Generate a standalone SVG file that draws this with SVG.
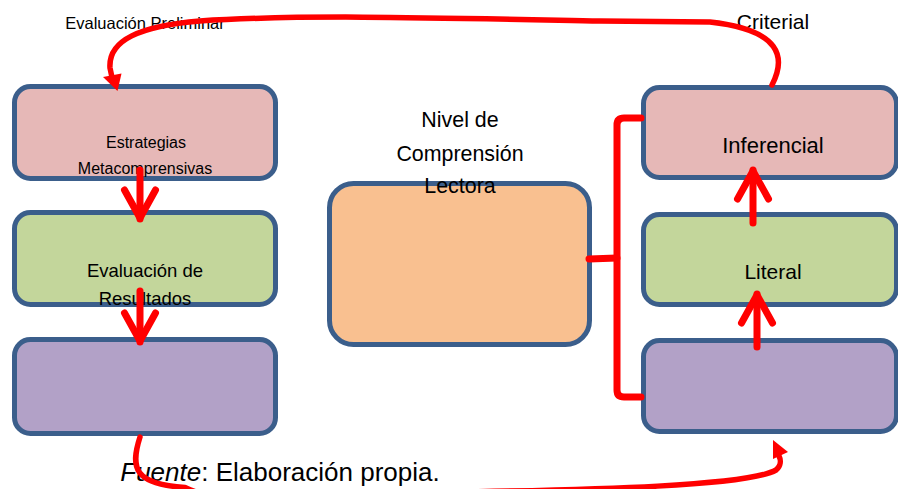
<svg xmlns="http://www.w3.org/2000/svg" width="898" height="489" viewBox="0 0 898 489">
<style>
.box{stroke:#3b5e8b;stroke-width:5}
.pink{fill:#e6b8b7}
.green{fill:#c3d69b}
.purple{fill:#b2a1c7}
.orange{fill:#f9c090}
text{font-family:"Liberation Sans",Arial,sans-serif;fill:#000;text-anchor:middle}
.red{fill:none;stroke:#ff0000;stroke-linecap:round;stroke-linejoin:round}
</style>
<defs>
<marker id="chev" markerUnits="userSpaceOnUse" viewBox="-40 -22 48 44" refX="0" refY="0" markerWidth="48" markerHeight="44" orient="auto">
<path d="M-29,-15.5 L-1,0 L-29,15.5" fill="none" stroke="#ff0000" stroke-width="7" stroke-linecap="round" stroke-linejoin="round"/>
</marker>
</defs>
<rect width="898" height="489" fill="#ffffff"/>

<g id="estrategias">
<rect class="box pink" x="14.5" y="86.5" width="261" height="92" rx="16"/>
<text x="146" y="148" font-size="16">Estrategias</text>
<text x="145" y="174" font-size="16">Metacomprensivas</text>
</g>
<g id="evaluacion-resultados">
<rect class="box green" x="14.5" y="212.5" width="261" height="92" rx="16"/>
<text x="145" y="277" font-size="18.5">Evaluación de</text>
<text x="145" y="305" font-size="18.5">Resultados</text>
</g>
<g id="left-bottom">
<rect class="box purple" x="14.5" y="339.5" width="261" height="94" rx="16"/>
</g>
<g id="nivel-comprension">
<rect class="box orange" x="329.5" y="183.5" width="260" height="161" rx="24"/>
<text x="460" y="127" font-size="21.4">Nivel de</text>
<text x="460" y="161" font-size="21.4">Comprensión</text>
<text x="460" y="193" font-size="21.4">Lectora</text>
</g>
<g id="inferencial">
<rect class="box pink" x="643.5" y="87.5" width="253" height="90" rx="16"/>
<text x="773" y="153" font-size="22">Inferencial</text>
</g>
<g id="literal">
<rect class="box green" x="643.5" y="214.5" width="253" height="90" rx="16"/>
<text x="773" y="279" font-size="21">Literal</text>
</g>
<g id="right-bottom">
<rect class="box purple" x="643.5" y="340.5" width="253" height="91" rx="16"/>
</g>

<g id="labels">
<text x="145" y="29" font-size="16.5">Evaluación Preliminar</text>
<text x="773" y="29" font-size="21">Criterial</text>
<text x="280" y="481" font-size="26"><tspan font-style="italic">Fuente</tspan>: Elaboración propia.</text>
</g>

<g id="connectors">
<path class="red" stroke-width="5.5" d="M772,85 C786,58 782,30 710,22 L600,21 C450,18 300,14 200,21 C140,26 108,40 110,68 L113,82"/>
<polygon points="117.5,91 103,77 121.5,73.5" fill="#ff0000"/>
<path class="red" stroke-width="7" d="M140,170 L140,219" marker-end="url(#chev)"/>
<path class="red" stroke-width="7" d="M140,291 L140,342" marker-end="url(#chev)"/>
<path class="red" stroke-width="7" d="M753,223 L753,170" marker-end="url(#chev)"/>
<path class="red" stroke-width="7" d="M757,347 L757,294" marker-end="url(#chev)"/>
<path class="red" stroke-width="7" d="M641,118 L624,118 Q617,118 617,125 L617,390 Q617,397 624,397 L641,397"/>
<path class="red" stroke-width="7" d="M589,259 L617,258"/>
<path class="red" stroke-width="5.5" d="M140,437 C130,468 134,484 185,487.5 C230,510 380,512 440,492.5 C600,489.5 748,486 776,470 C781,466 781,460 779,456"/>
<polygon points="773,440 773,459 788,452" fill="#ff0000"/>
</g>
</svg>
